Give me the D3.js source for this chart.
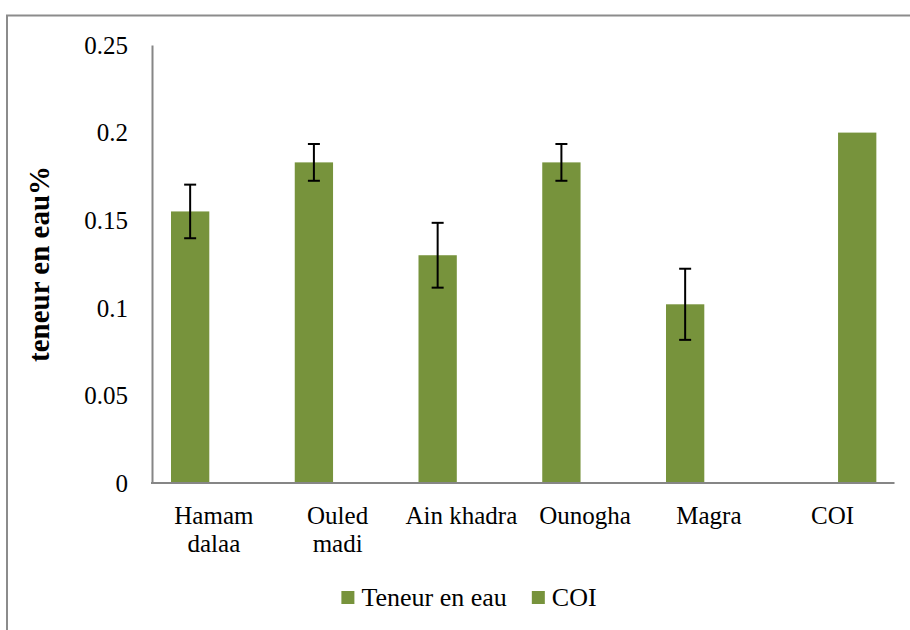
<!DOCTYPE html>
<html>
<head>
<meta charset="utf-8">
<script src="https://cdn.jsdelivr.net/npm/d3@7"></script>
<style>
  body { margin: 0; background: #fff; }
  svg text { font-family: 'Liberation Serif', 'Times New Roman', Times, 'DejaVu Serif', serif !important; fill: #000; }
</style>
</head>
<body>
<div id="chart"></div>
<script>
var categories = ["Hamam dalaa", "Ouled madi", "Ain khadra", "Ounogha", "Magra", "COI"];
var labelLines = [["Hamam", "dalaa"], ["Ouled", "madi"], ["Ain khadra"], ["Ounogha"], ["Magra"], ["COI"]];
var seriesNames = ["Teneur en eau", "COI"];
var teneurValues = [0.155, 0.183, 0.130, 0.183, 0.102, null];
var teneurErrors = [0.0153, 0.0105, 0.0185, 0.0105, 0.0203, null];
var coiValues = [null, null, null, null, null, 0.2];
var yTicks = [0, 0.05, 0.1, 0.15, 0.2, 0.25];
var yTickLabels = ["0", "0.05", "0.1", "0.15", "0.2", "0.25"];

var canvasWidth = 910;
var canvasHeight = 630;
var green = "#77933c";

var svg = d3.select("#chart")
    .append("svg")
    .attr("width", canvasWidth)
    .attr("height", canvasHeight);

/* chart area border (runs off the right and bottom edges) */
svg.append("path")
    .attr("d", "M7,640 L7,15.5 L920,15.5")
    .attr("fill", "none")
    .attr("stroke", "#8c8c8c")
    .attr("stroke-width", 2);

var plotLeft = 152, plotRight = 894.5, plotTop = 45, plotBottom = 483;

var x0 = d3.scaleBand().domain(categories).range([plotLeft, plotRight]);
var x1 = d3.scaleBand().domain(seriesNames)
    .range([19, 19 + 86.6])
    .paddingInner(0.207);
var y = d3.scaleLinear().domain([0, 0.25]).range([plotBottom, plotTop]);

/* Y axis */
var yAxis = svg.append("g")
    .attr("transform", "translate(" + plotLeft + ",0)")
    .call(d3.axisLeft(y).tickValues(yTicks).tickSize(0).tickPadding(24)
        .tickFormat(function(d, i) { return yTickLabels[i]; }));
yAxis.attr("font-family", null).attr("font-size", null);
yAxis.select(".domain").attr("stroke", "#868686").attr("stroke-width", 2);
yAxis.selectAll("text")
    .style("font-size", "25px")
    .attr("dy", "0.33em");

/* bars */
var rows = categories.map(function(c, i) {
    return [
        { cat: c, series: "Teneur en eau", value: teneurValues[i], err: teneurErrors[i] },
        { cat: c, series: "COI", value: coiValues[i], err: null }
    ];
});
var flat = [].concat.apply([], rows).filter(function(d) { return d.value != null; });

svg.append("g").selectAll("rect")
    .data(flat)
    .join("rect")
    .attr("x", function(d) { return x0(d.cat) + x1(d.series); })
    .attr("y", function(d) { return y(d.value); })
    .attr("width", x1.bandwidth())
    .attr("height", function(d) { return y(0) - y(d.value); })
    .attr("fill", green);

/* error bars */
var errData = flat.filter(function(d) { return d.err != null; });
var eb = svg.append("g").selectAll("g")
    .data(errData)
    .join("g")
    .attr("stroke", "#000")
    .attr("stroke-width", 2);
eb.append("line")
    .attr("x1", function(d) { return x0(d.cat) + x1(d.series) + x1.bandwidth() / 2; })
    .attr("x2", function(d) { return x0(d.cat) + x1(d.series) + x1.bandwidth() / 2; })
    .attr("y1", function(d) { return y(d.value + d.err); })
    .attr("y2", function(d) { return y(d.value - d.err); });
[1, -1].forEach(function(s) {
    eb.append("line")
        .attr("x1", function(d) { return x0(d.cat) + x1(d.series) + x1.bandwidth() / 2 - 6; })
        .attr("x2", function(d) { return x0(d.cat) + x1(d.series) + x1.bandwidth() / 2 + 6; })
        .attr("y1", function(d) { return y(d.value + s * d.err); })
        .attr("y2", function(d) { return y(d.value + s * d.err); });
});

/* X axis */
svg.append("line")
    .attr("x1", plotLeft - 1)
    .attr("x2", plotRight)
    .attr("y1", y(0))
    .attr("y2", y(0))
    .attr("stroke", "#868686")
    .attr("stroke-width", 2);

var xLabels = svg.append("g").selectAll("text")
    .data(categories)
    .join("text")
    .attr("x", function(d) { return x0(d) + x0.bandwidth() / 2; })
    .attr("y", 524)
    .attr("text-anchor", "middle")
    .style("font-size", "25px");
xLabels.each(function(d, i) {
    var t = d3.select(this);
    labelLines[i].forEach(function(line, j) {
        t.append("tspan")
            .attr("x", x0(d) + x0.bandwidth() / 2)
            .attr("dy", j === 0 ? 0 : 27.5)
            .text(line);
    });
});

/* Y axis title */
svg.append("text")
    .attr("transform", "translate(49," + ((plotTop + plotBottom) / 2) + ") rotate(-90)")
    .attr("text-anchor", "middle")
    .style("font-size", "29px")
    .style("font-weight", "bold")
    .text("teneur en eau%");

/* legend */
var legend = svg.append("g");
var lx = 0;
seriesNames.forEach(function(name, i) {
    var item = legend.append("g").attr("transform", "translate(" + lx + ",0)");
    item.append("rect")
        .attr("x", 0).attr("y", -7)
        .attr("width", 13).attr("height", 13)
        .attr("fill", green);
    var t = item.append("text")
        .attr("x", 20).attr("y", 8)
        .style("font-size", "26px")
        .text(name);
    lx += 20 + t.node().getComputedTextLength() + 25;
});
var legendWidth = lx - 25;
legend.attr("transform", "translate(" + (469 - legendWidth / 2) + ",598)");
</script>
</body>
</html>
